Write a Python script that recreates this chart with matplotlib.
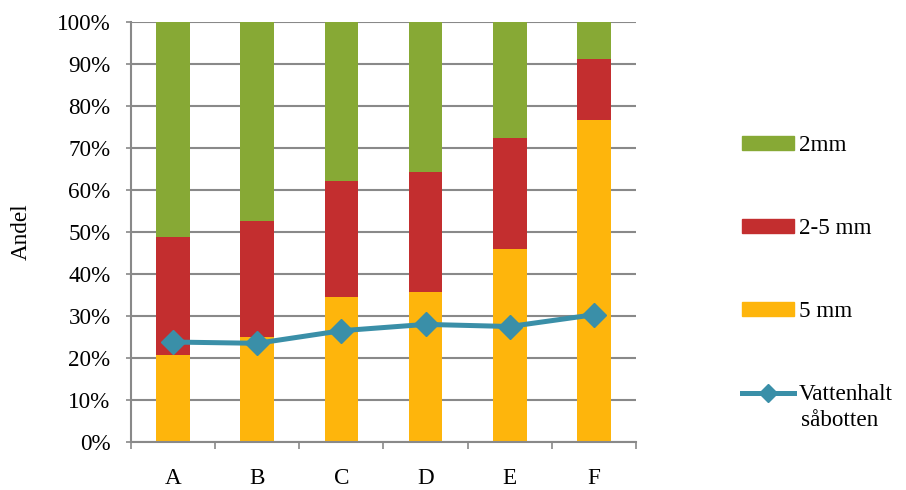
import matplotlib
matplotlib.use("Agg")
import matplotlib.pyplot as plt
import numpy as np
from matplotlib.patches import Patch
from matplotlib.lines import Line2D

categories = ["A", "B", "C", "D", "E", "F"]
share_5mm = [20.6, 24.9, 34.5, 35.7, 45.9, 76.6]
share_2_5mm = [28.3, 27.8, 27.7, 28.5, 26.6, 14.7]
share_2mm = [51.1, 47.3, 37.8, 35.8, 27.5, 8.7]
vattenhalt = [23.8, 23.5, 26.5, 28.0, 27.5, 30.3]
yticks = [0, 10, 20, 30, 40, 50, 60, 70, 80, 90, 100]
ytick_labels = [f"{v}%" for v in yticks]

plt.rcParams['font.family'] = ['Liberation Serif', 'DejaVu Serif']
FS = 16.7

C_GREEN = '#87A935'
C_RED = '#C32E2F'
C_YELLOW = '#FEB50C'
C_TEAL = '#3A8FA8'
C_GRID = '#898989'

fig = plt.figure(figsize=(9.06, 4.90), dpi=100)
ax = fig.add_axes([131/906, 1-442/490, (636-131)/906, (442-22)/490])

x = np.arange(len(categories))
w = 0.4
a5 = np.array(share_5mm)
a25 = np.array(share_2_5mm)
a2 = np.array(share_2mm)
ax.bar(x, a5, w, color=C_YELLOW, zorder=2)
ax.bar(x, a25, w, bottom=a5, color=C_RED, zorder=2)
ax.bar(x, a2, w, bottom=a5 + a25, color=C_GREEN, zorder=2)
ax.plot(x, vattenhalt, color=C_TEAL, lw=3.6, marker='D', ms=12, zorder=3)

ax.set_xlim(-0.5, len(categories) - 0.5)
ax.set_ylim(0, 100)
ax.set_yticks(yticks)
ax.set_yticklabels(ytick_labels, fontsize=FS)
ax.set_xticks(x)
ax.set_xticklabels(categories, fontsize=FS)
ax.set_xticks(np.arange(-0.5, len(categories)), minor=True)
ax.tick_params(axis='x', which='major', length=0, pad=19)
ax.tick_params(axis='x', which='minor', length=5, color=C_GRID, direction='out', width=1.2)
ax.tick_params(axis='y', length=3.8, color=C_GRID, direction='out', width=1.2, pad=11)
ax.grid(axis='y', color=C_GRID, lw=1.5, zorder=1)
ax.set_axisbelow(True)
for s in ['top', 'right']:
    ax.spines[s].set_visible(False)
for s in ['left', 'bottom']:
    ax.spines[s].set_color(C_GRID)
    ax.spines[s].set_linewidth(1.5)
ax.set_ylabel("Andel", fontsize=FS, labelpad=18)

handles = [Patch(color=C_GREEN), Patch(color=C_RED), Patch(color=C_YELLOW),
           Line2D([0], [0], color=C_TEAL, lw=3.6, marker='D', ms=9)]
labels = ["2mm", "2-5 mm", "5 mm", "Vattenhalt"]
leg = fig.legend(handles, labels, loc='upper left', bbox_to_anchor=(742/906, 1-135/490),
                 frameon=False, fontsize=FS, handlelength=2.24, handleheight=0.57,
                 handletextpad=0.2, labelspacing=2.68, borderpad=0, borderaxespad=0)
fig.text(801/906, 1-420/490, "såbotten", fontsize=FS, va='center', ha='left')

fig.savefig("out.png", dpi=100)
